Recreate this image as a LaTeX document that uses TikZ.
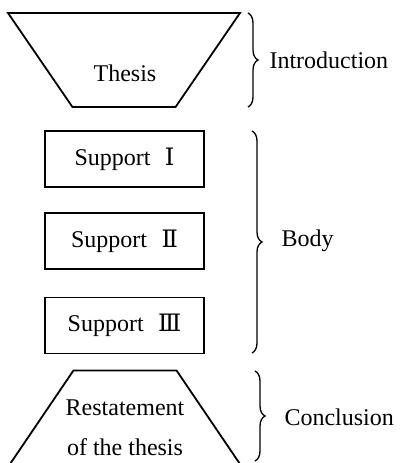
\documentclass[tikz,border=0pt]{standalone}
\usepackage{fontspec}
\setmainfont{Liberation Serif}
\newfontfamily\numfont{DejaVu Serif}
\usetikzlibrary{shapes.geometric,decorations.pathreplacing,positioning}

\tikzset{
  every node/.style={font=\fontsize{24}{27}\selectfont},
  part/.style={draw, line width=1.8pt, trapezium, trapezium left angle=58,
    trapezium right angle=58, trapezium stretches=true,
    minimum width=232pt, minimum height=94pt, inner sep=2pt},
  supportbox/.style={draw, line width=1.8pt, minimum width=159pt,
    minimum height=56pt, inner sep=0pt},
  bracket/.style={decorate, decoration={brace, amplitude=10pt}, line width=1.3pt}
}

\begin{document}
\begin{tikzpicture}[x=1pt,y=-1pt]
  \useasboundingbox (0,0) rectangle (403,463);
  % the three parts
  \node[part, shape border rotate=180] (intro) at (124,60) {};
  \node (thesis) at (125,73) {Thesis};
  \node[supportbox] (sone) at (124.5,159) {Support\hspace{0.6em}{\numfont Ⅰ}};
  \node[supportbox] (stwo) at (124.5,241) {Support\hspace{0.6em}{\numfont Ⅱ}};
  \node[supportbox] (sthree) at (124.5,325.5) {Support\hspace{0.6em}{\numfont Ⅲ}};
  \node[part, minimum height=95pt] (concl) at (125,418) {};
  \node[align=center, font=\fontsize{24}{40}\selectfont] (restate) at (125,428) {Restatement\\of the thesis};
  % braces
  \coordinate (ia) at (248,13);
  \coordinate (ib) at (248,107);
  \coordinate (ba) at (252,131);
  \coordinate (bb) at (252,353);
  \coordinate (ca) at (255,371);
  \coordinate (cb) at (255,461);
  \draw[bracket] (ia) -- (ib);
  \draw[bracket] (ba) -- (bb);
  \draw[bracket] (ca) -- (cb);
  \node[anchor=west] (introduction) at (266,60) {Introduction};
  \node[anchor=west] (body) at (278,241) {Body};
  \node[anchor=west] (conclusion) at (281,417) {Conclusion};
\end{tikzpicture}
\end{document}
